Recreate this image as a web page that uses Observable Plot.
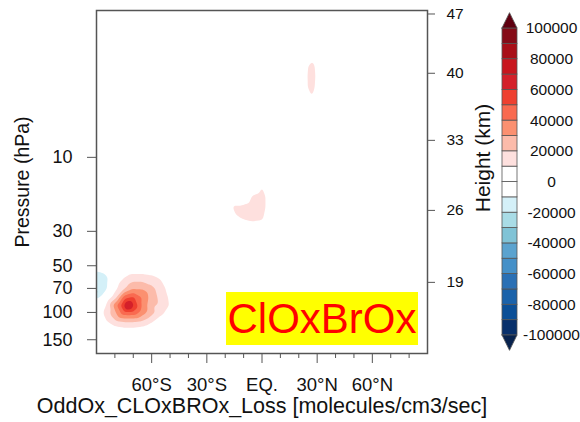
<!DOCTYPE html>
<html>
<head>
<meta charset="utf-8">
<script src="https://cdn.jsdelivr.net/npm/d3@7"></script>
<script src="https://cdn.jsdelivr.net/npm/@observablehq/plot@0.6"></script>
<style>
  html, body { margin: 0; padding: 0; background: #fff; }
  #wrap { position: relative; width: 580px; height: 422px; overflow: hidden; font-family: "Liberation Sans", Arial, sans-serif; }
  #wrap svg { position: absolute; left: 0; top: 0; }
  #tag { position: absolute; left: 226px; top: 292px; width: 192px; height: 53px; background: #ffff00; color: #ff0000;
         font: 42px/53px "Liberation Sans", Arial, sans-serif; text-align: center; white-space: nowrap; }
</style>
</head>
<body>
<div id="wrap"><div id="tag">ClOxBrOx</div></div>
<script>
// ---- contour levels and colours ----
const levels = [-100000, -90000, -80000, -70000, -60000, -50000, -40000, -30000, -20000, -10000, 0,
                10000, 20000, 30000, 40000, 50000, 60000, 70000, 80000, 90000, 100000];
const colors = ["#08234e", "#08306b", "#0b4f97", "#1a62aa", "#2a70b5", "#4590c8", "#5ba3cf", "#80c3d6",
                "#a9dce6", "#d4f0f8", "#ffffff", "#ffffff", "#fee0de", "#fcbbaa", "#fb9070", "#f96a50",
                "#ee4030", "#d4202a", "#c8161e", "#a80f18", "#850b17", "#5f0010"];
const barLabels = [-100000, -80000, -60000, -40000, -20000, 0, 20000, 40000, 60000, 80000, 100000];

// ---- axes ----
const latTicks = [-60, -30, 0, 30, 60];
const latTickLabels = ["60°S", "30°S", "EQ.", "30°N", "60°N"];
const latMinor = [-80, -70, -50, -40, -20, -10, 10, 20, 40, 50, 70, 80];
const presTicks = [10, 30, 50, 70, 100, 150];
const hgtLabels = [47, 40, 33, 26, 19];
const hgtPres = [1.19, 2.87, 7.77, 21.98, 64.0];

// ---- field samples: SH high latitudes, lower stratosphere ----
const polarLats = [-90, -85, -80, -75, -70, -65, -60, -55, -50, -45];
const polarPres = [50, 60, 70, 80, 90, 100, 115, 130, 150];
const polarP50  = [ -5000,      0,     0,     0,     0,     0,     0,     0,    0, 0];
const polarP60  = [-16000, -14000,  3000, 10000, 15000, 15000, 13000,  9000,    0, 0];
const polarP70  = [-19000, -13000,  7000, 18000, 29000, 29000, 23000, 15000, 5000, 0];
const polarP80  = [-15000,      0, 15000, 45000, 52000, 39000, 25000, 17000, 8000, 0];
const polarP90  = [     0,   9000, 35000, 60000, 61000, 38000, 22000, 18000, 9000, 0];
const polarP100 = [     0,  13000, 28000, 48000, 48000, 35000, 24000, 13000, 5000, 0];
const polarP115 = [     0,   8000, 17000, 20000, 20000, 18000, 11000,  4000,    0, 0];
const polarP130 = [     0,      0,  4000,  6000,  6000,  4000,     0,     0,    0, 0];
const polarP150 = [     0,      0,     0,     0,     0,     0,     0,     0,    0, 0];
const extraLat = [-73, -90, -90];
const extraPres = [91, 75, 85];
const extraVal = [76000, -23000, -3000];

// ---- tropical patch near 20 hPa ----
const eqLats = [-20, -15, -10, -5, 0, 5, 10];
const eqPres = [12, 15, 18, 21, 25, 30];
const eqP12 = [0,     0,     0,     0,     0,    0, 0];
const eqP15 = [0,     0,     0,  3000,  9500,    0, 0];
const eqP18 = [0,     0,  4000, 11000, 13000, 5000, 0];
const eqP21 = [0, 12000, 12000, 14000, 13000, 5000, 0];
const eqP25 = [0,  8000, 10500, 12000, 11000, 2000, 0];
const eqP30 = [0,     0,     0,  2000,     0,    0, 0];

// ---- NH upper stratosphere streak ----
const nhLats = [21, 24, 27, 30, 33];
const nhPres = [1.9, 2.2, 2.6, 3.0, 3.5, 4.2, 5.0];
const nhP19 = [0,    0,     0,    0, 0];
const nhP22 = [0,    0,  4000,    0, 0];
const nhP26 = [0, 7000, 15000, 6000, 0];
const nhP30 = [0, 8000, 16000, 7000, 0];
const nhP35 = [0, 8000, 15000, 6000, 0];
const nhP42 = [0, 2000,  9000, 2000, 0];
const nhP50 = [0,    0,     0,    0, 0];

// ---- zero background ----
const bgLats = [-90, -45, 0, 45, 90];
const bgPres = [1.13, 10, 40, 184];

const points = [];
function addGrid(lats, pres, rows) {
  rows.forEach((row, j) => row.forEach((v, i) => points.push({lat: lats[i], p: pres[j], v})));
}
addGrid(polarLats, polarPres, [polarP50, polarP60, polarP70, polarP80, polarP90, polarP100, polarP115, polarP130, polarP150]);
extraLat.forEach((lat, i) => points.push({lat, p: extraPres[i], v: extraVal[i]}));
addGrid(eqLats, eqPres, [eqP12, eqP15, eqP18, eqP21, eqP25, eqP30]);
addGrid(nhLats, nhPres, [nhP19, nhP22, nhP26, nhP30, nhP35, nhP42, nhP50]);
addGrid(bgLats, bgPres, bgPres.map(() => bgLats.map(() => 0)));

const latFmt = new Map(latTicks.map((d, i) => [d, latTickLabels[i]]));
const font = "Liberation Sans, Arial, Helvetica, sans-serif";

const main = Plot.plot({
  width: 580, height: 422,
  marginLeft: 96, marginRight: 153, marginTop: 10, marginBottom: 69,
  style: {fontFamily: font, background: "transparent", color: "#111"},
  x: {domain: [-90, 90]},
  y: {type: "log", domain: [184, 1.13]},
  color: {type: "threshold", domain: levels, range: colors},
  marks: [
    Plot.contour(points, {x: "lat", y: "p", value: "v", fill: "value", thresholds: levels,
                          interpolate: "barycentric", pixelSize: 1, blur: 1}),
    Plot.frame({stroke: "#555", strokeWidth: 1.5}),
    Plot.axisX({ticks: latTicks, tickFormat: d => latFmt.get(d), tickSize: 10, tickPadding: 14,
                fontSize: 18.5, stroke: "#555", label: null}),
    Plot.axisX({ticks: latMinor, tickSize: 5, text: null, stroke: "#555", label: null}),
    Plot.axisY({ticks: presTicks, tickSize: 9, text: null, stroke: "#555", label: null}),
    Plot.text(presTicks, {y: d => d, text: d => String(d), frameAnchor: "left", dx: -24, textAnchor: "end", fontSize: 18}),
    Plot.axisY({anchor: "right", ticks: hgtPres, tickSize: 7, text: null, stroke: "#555", label: null}),
    Plot.text(hgtPres, {y: d => d, text: (d, i) => String(hgtLabels[i]), frameAnchor: "right", dx: 19, textAnchor: "start", fontSize: 15.5}),
    Plot.text(["Pressure (hPa)"], {frameAnchor: "left", rotate: -90, dx: -74, textAnchor: "middle", fontSize: 19.5}),
    Plot.text(["Height (km)"], {frameAnchor: "right", rotate: -90, dx: 56, dy: -24, textAnchor: "middle", fontSize: 21}),
    Plot.text(["OddOx_CLOxBROx_Loss [molecules/cm3/sec]"], {frameAnchor: "bottom", dy: 59, fontSize: 21.5})
  ]
});

// ---- colour bar ----
const boxes = levels.slice(0, -1).map((lo, i) => ({lo, hi: levels[i + 1], c: colors[i + 1]}));
const step = levels[1] - levels[0];
const lowTri = [{x: 0, y1: levels[0], y2: levels[0]}, {x: 0.5, y1: levels[0], y2: levels[0] - step}, {x: 1, y1: levels[0], y2: levels[0]}];
const highTri = [{x: 0, y1: levels[20], y2: levels[20]}, {x: 0.5, y1: levels[20], y2: levels[20] + step}, {x: 1, y1: levels[20], y2: levels[20]}];

const bar = Plot.plot({
  width: 580, height: 422,
  marginLeft: 502, marginRight: 63, marginTop: 28, marginBottom: 87,
  style: {fontFamily: font, background: "transparent", color: "#111"},
  x: {domain: [0, 1], axis: null},
  y: {domain: [levels[0], levels[20]], axis: null},
  marks: [
    Plot.rect(boxes, {x1: 0, x2: 1, y1: "lo", y2: "hi", fill: "c", stroke: "#555", strokeWidth: 0.8}),
    Plot.areaY(lowTri, {x: "x", y1: "y1", y2: "y2", fill: colors[0], stroke: "#555", strokeWidth: 0.8}),
    Plot.areaY(highTri, {x: "x", y1: "y1", y2: "y2", fill: colors[21], stroke: "#555", strokeWidth: 0.8}),
    Plot.text(barLabels, {x: 1, y: d => d, text: d => String(d), dx: 34, textAnchor: "middle", fontSize: 15.5})
  ]
});

const wrap = document.getElementById("wrap");
wrap.insertBefore(main, wrap.firstChild);
wrap.insertBefore(bar, document.getElementById("tag"));
</script>
</body>
</html>
